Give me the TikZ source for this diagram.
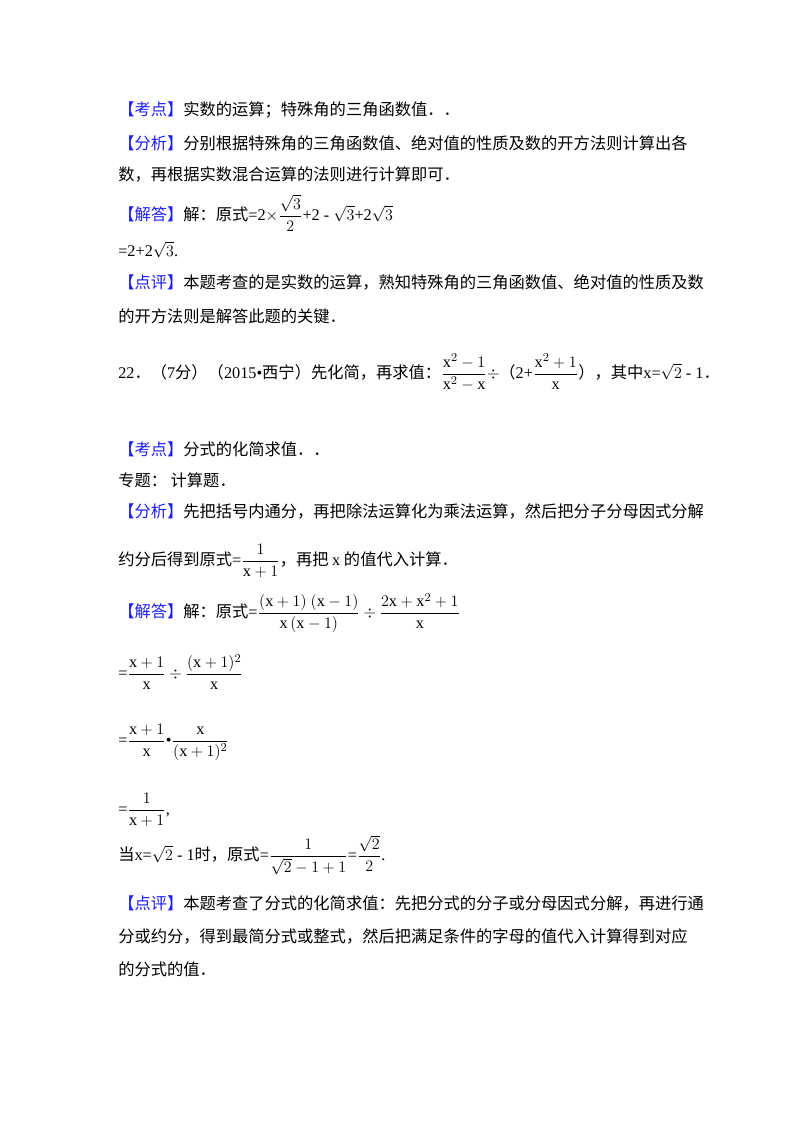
\documentclass[tikz,border=0pt]{standalone}
\usepackage{amsmath}
\usepackage{fontspec}
\setmainfont{Noto Sans CJK SC}
\newfontfamily\lat{Liberation Serif}
\definecolor{kb}{RGB}{30,30,250}
\newcommand{\tg}[1]{\textcolor{kb}{【#1】}}
\newcommand{\X}{\text{\lat x}}
\begin{document}
\begin{tikzpicture}[x=0.75pt,y=-0.75pt,
  t/.style={anchor=west,inner sep=0pt,font=\fontsize{12.2pt}{14pt}\selectfont}]
\useasboundingbox[fill=white] (0,0) rectangle (800,1132);
\node[t] (l1) at (118,110) {\tg{考点}实数的运算；特殊角的三角函数值．．};
\node[t] (l2) at (118,143) {\tg{分析}分别根据特殊角的三角函数值、绝对值的性质及数的开方法则计算出各};
\node[t] (l3) at (118,174) {数，再根据实数混合运算的法则进行计算即可．};
\node[t] (l4) at (118,213) {\tg{解答}解：原式{\lat =2$\times\dfrac{\sqrt3}{2}$+2 - $\sqrt3$+2$\sqrt3$}};
\node[t] (l5) at (118,250) {{\lat =2+2$\sqrt3$.}};
\node[t] (l6) at (118,282) {\tg{点评}本题考查的是实数的运算，熟知特殊角的三角函数值、绝对值的性质及数};
\node[t] (l7) at (118,316) {的开方法则是解答此题的关键．};
\node[t] (p1) at (118,372) {{\lat 22}．（{\lat 7}分）（{\lat 2015•}西宁）先化简，再求值：{\lat $\dfrac{\X^2-1}{\X^2-\X}\div$}（{\lat 2+$\dfrac{\X^2+1}{\X}$}），其中{\lat x=$\sqrt2$ - 1}．};
\node[t] (k1) at (118,449) {\tg{考点}分式的化简求值．．};
\node[t] (k2) at (118,480) {专题：\ 计算题．};
\node[t] (k3) at (118,511) {\tg{分析}先把括号内通分，再把除法运算化为乘法运算，然后把分子分母因式分解};
\node[t] (k4) at (118,561) {约分后得到原式{\lat =$\dfrac{1}{\X+1}$}，再把 {\lat x} 的值代入计算．};
\node[t] (j1) at (118,613) {\tg{解答}解：原式{\lat =$\dfrac{(\X+1)\ (\X-1)}{\X\,(\X-1)}\div\dfrac{2\X+\X^2+1}{\X}$}};
\node[t] (j2) at (118,672) {{\lat =$\dfrac{\X+1}{\X}\div\dfrac{(\X+1)^2}{\X}$}};
\node[t] (j3) at (118,742) {{\lat =$\dfrac{\X+1}{\X}$\textbullet$\dfrac{\X}{(\X+1)^2}$}};
\node[t] (j4) at (118,810) {{\lat =$\dfrac{1}{\X+1}$,}};
\node[t] (j5) at (118,855) {当{\lat x=$\sqrt2$ - 1}时，原式{\lat =$\dfrac{1}{\sqrt2-1+1}$=$\dfrac{\sqrt2}{2}$.}};
\node[t] (d1) at (118,903) {\tg{点评}本题考查了分式的化简求值：先把分式的分子或分母因式分解，再进行通};
\node[t] (d2) at (118,936) {分或约分，得到最简分式或整式，然后把满足条件的字母的值代入计算得到对应};
\node[t] (d3) at (118,969) {的分式的值．};
\end{tikzpicture}
\end{document}
